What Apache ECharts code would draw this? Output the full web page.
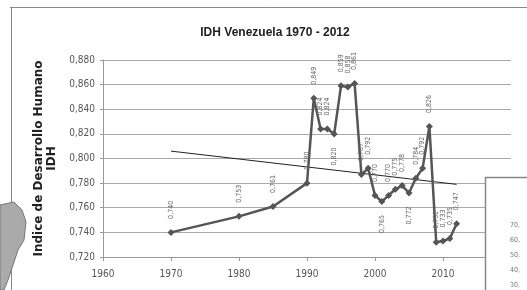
<!DOCTYPE html>
<html>
<head>
<meta charset="utf-8">
<script src="https://cdn.jsdelivr.net/npm/echarts@6/dist/echarts.min.js"></script>
<style>
  html, body { margin: 0; padding: 0; background: #fff; }
  #chart { width: 527px; height: 290px; }
</style>
</head>
<body>
<div id="chart"></div>
<script>
// años y valores del IDH
var years = [1970, 1980, 1985, 1990, 1991, 1992, 1993, 1994, 1995, 1996, 1997, 1998, 1999,
             2000, 2001, 2002, 2003, 2004, 2005, 2006, 2007, 2008, 2009, 2010, 2011, 2012];
var idh = [0.740, 0.753, 0.761, 0.780, 0.849, 0.824, 0.824, 0.820, 0.859, 0.858, 0.861, 0.787, 0.792,
           0.770, 0.765, 0.770, 0.775, 0.778, 0.772, 0.784, 0.792, 0.826, 0.732, 0.733, 0.735, 0.747];
// linea de tendencia (extremos)
var trendYears = [1970, 2012];
var trendValues = [0.806, 0.779];
var boxTicks = ['70,', '60,', '50,', '40,', '30,'];

var labelsBelow = [1994, 2001, 2005];

var fmt = function (v) { return v.toFixed(3).replace('.', ','); };

var serieData = [];
for (var i = 0; i < years.length; i++) {
  var below = labelsBelow.indexOf(years[i]) >= 0;
  serieData.push({
    value: [years[i], idh[i]],
    label: below ? { position: 'bottom', align: 'right' } : {}
  });
}
var trendData = [];
for (var i = 0; i < trendYears.length; i++) {
  trendData.push([trendYears[i], trendValues[i]]);
}

var boxText = [];
for (var i = 0; i < boxTicks.length; i++) {
  boxText.push({
    type: 'text', left: 510, top: 222 + i * 15, z: 101,
    style: { text: boxTicks[i], fill: '#777', font: '7px "Liberation Sans Narrow", "DejaVu Sans Condensed"' }
  });
}

var chart = echarts.init(document.getElementById('chart'));
chart.setOption({
  animation: false,
  backgroundColor: '#fff',
  title: {
    text: 'IDH Venezuela 1970 - 2012',
    left: 270, top: 22, textAlign: 'center',
    textStyle: { fontFamily: 'Liberation Sans', fontWeight: 'bold', fontSize: 12, color: '#222' }
  },
  grid: { left: 103, right: 16, top: 60, bottom: 33 },
  xAxis: {
    type: 'value', min: 1960, max: 2020, interval: 10,
    axisLine: { lineStyle: { color: '#999' } },
    axisTick: { show: true, length: 4, lineStyle: { color: '#999' } },
    splitLine: { show: false },
    axisLabel: {
      color: '#555', fontSize: 10, fontFamily: 'Liberation Sans Narrow, DejaVu Sans Condensed', margin: 12,
      formatter: function (v) { return String(v); }
    }
  },
  yAxis: {
    type: 'value', min: 0.72, max: 0.88, interval: 0.02,
    name: 'Indice de Desarrollo Humano\nIDH',
    nameLocation: 'middle', nameGap: 39,
    nameTextStyle: { fontFamily: 'DejaVu Sans', fontWeight: 'bold', fontSize: 12, color: '#222', lineHeight: 13 },
    axisLine: { show: true, lineStyle: { color: '#999' } },
    axisTick: { show: true, length: 3, lineStyle: { color: '#999' } },
    splitLine: { lineStyle: { color: '#aaa' } },
    axisLabel: {
      color: '#555', fontSize: 10, fontFamily: 'Liberation Sans Narrow, DejaVu Sans Condensed', margin: 8,
      formatter: fmt
    }
  },
  series: [
    {
      type: 'line',
      data: serieData,
      symbol: 'diamond', symbolSize: 7,
      lineStyle: { color: '#555', width: 2.5 },
      itemStyle: { color: '#555' },
      label: {
        show: true, position: 'top', rotate: 90, distance: 10,
        align: 'left', verticalAlign: 'middle',
        fontSize: 7, color: '#666', fontFamily: 'Liberation Sans Narrow, DejaVu Sans Condensed',
        formatter: function (p) { return fmt(p.value[1]); }
      },
      z: 3
    },
    {
      type: 'line',
      data: trendData,
      symbol: 'none',
      lineStyle: { color: '#222', width: 1 },
      z: 2
    }
  ],
  graphic: [
    { type: 'line', shape: { x1: 10, y1: 7.5, x2: 527, y2: 7.5 }, style: { stroke: '#888', lineWidth: 1 } },
    { type: 'line', shape: { x1: 11.5, y1: 7, x2: 11.5, y2: 290 }, style: { stroke: '#888', lineWidth: 1 } },
    {
      type: 'polygon', z: 100,
      shape: { points: [[0, 205], [14, 202], [22, 210], [26, 222], [24, 240], [18, 250], [14, 262], [8, 280], [4, 290], [0, 290]] },
      style: { fill: '#aaa', stroke: '#777', lineWidth: 1 }
    },
    {
      type: 'rect', z: 100,
      shape: { x: 485.5, y: 177.5, width: 50, height: 120 },
      style: { fill: '#fff', stroke: '#888', lineWidth: 1.5 }
    }
  ].concat(boxText)
});
</script>
</body>
</html>
